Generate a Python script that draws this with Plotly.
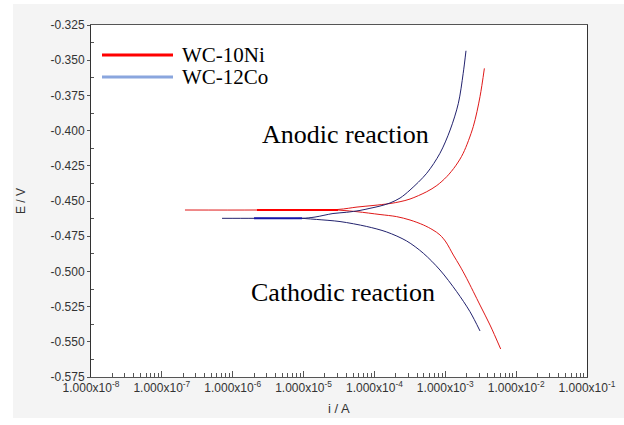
import plotly.graph_objects as go

# ---- data ----
ni_anodic_i = [2.12e-7, 2.20e-6, 3.06e-5, 5.68e-5, 9.55e-5, 1.66e-4, 2.30e-4, 3.18e-4,
               5.47e-4, 7.60e-4, 1.05e-3, 1.40e-3, 1.79e-3, 2.48e-3, 3.09e-3, 3.56e-3]
ni_anodic_E = [-0.4564, -0.4564, -0.4560, -0.4543, -0.4532, -0.4518, -0.4505, -0.4486,
               -0.4434, -0.4390, -0.4327, -0.4250, -0.4161, -0.3972, -0.3759, -0.3558]
ni_cathodic_i = [3.06e-5, 5.68e-5, 1.20e-4, 2.06e-4, 3.18e-4, 4.90e-4, 6.71e-4, 8.41e-4,
                 1.02e-3, 1.30e-3, 1.61e-3, 2.00e-3, 3.09e-3, 4.28e-3, 6.05e-3]
ni_cathodic_E = [-0.4564, -0.4576, -0.4596, -0.4611, -0.4635, -0.4670, -0.4706, -0.4741,
                 -0.4791, -0.4884, -0.4962, -0.5049, -0.5239, -0.5381, -0.5551]
ni_thick_i = [2.20e-6, 3.06e-5]
ni_thick_E = [-0.4564, -0.4564]

co_anodic_i = [7.07e-7, 2.00e-6, 9.51e-6, 1.45e-5, 2.60e-5, 4.06e-5, 6.25e-5, 8.65e-5,
               1.20e-4, 1.66e-4, 2.30e-4, 3.18e-4, 5.47e-4, 8.41e-4, 1.17e-3, 1.53e-3,
               1.79e-3, 1.96e-3]
co_anodic_E = [-0.4623, -0.4623, -0.4623, -0.4614, -0.4589, -0.4580, -0.4567, -0.4552,
               -0.4536, -0.4514, -0.4479, -0.4422, -0.4303, -0.4161, -0.3996, -0.3806,
               -0.3593, -0.3433]
co_cathodic_i = [9.51e-6, 1.53e-5, 3.27e-5, 7.78e-5, 1.49e-4, 2.85e-4, 4.90e-4, 8.41e-4,
                 1.45e-3, 2.23e-3, 3.09e-3]
co_cathodic_E = [-0.4623, -0.4631, -0.4646, -0.4681, -0.4720, -0.4784, -0.4871, -0.4990,
                 -0.5144, -0.5286, -0.5423]
co_thick_i = [2.00e-6, 9.51e-6]
co_thick_E = [-0.4623, -0.4623]

x_tick_vals = [1e-8, 1e-7, 1e-6, 1e-5, 1e-4, 1e-3, 1e-2, 1e-1]
x_tick_text = ["1.000x10<sup>-8</sup>", "1.000x10<sup>-7</sup>", "1.000x10<sup>-6</sup>",
               "1.000x10<sup>-5</sup>", "1.000x10<sup>-4</sup>", "1.000x10<sup>-3</sup>",
               "1.000x10<sup>-2</sup>", "1.000x10<sup>-1</sup>"]
y_tick_vals = [-0.575, -0.550, -0.525, -0.500, -0.475, -0.450, -0.425, -0.400, -0.375,
               -0.350, -0.325]
y_tick_text = ["-0.575", "-0.550", "-0.525", "-0.500", "-0.475", "-0.450", "-0.425",
               "-0.400", "-0.375", "-0.350", "-0.325"]

series_names = ["WC-10Ni", "WC-12Co"]
legend_colors = ["#ff0000", "#8aa6de"]

NI_COLOR = "#e01818"
CO_COLOR = "#22226e"
TICK_FONT = "Liberation Sans"

x_minor = [k * 10 ** e for e in range(-8, -1) for k in range(2, 10)]
y_minor = [v + 0.0125 for v in y_tick_vals[:-1]]

fig = go.Figure()


def add_line(xs, ys, color, width, smooth=True):
    fig.add_trace(go.Scatter(x=xs, y=ys, mode="lines", showlegend=False,
                             line=dict(color=color, width=width,
                                       shape="spline" if smooth else "linear",
                                       smoothing=0.9),
                             hoverinfo="skip"))


add_line(ni_anodic_i, ni_anodic_E, NI_COLOR, 1.0)
add_line(ni_cathodic_i, ni_cathodic_E, NI_COLOR, 1.0)
add_line(ni_thick_i, ni_thick_E, "#ff0000", 2.0, smooth=False)
add_line(co_anodic_i, co_anodic_E, CO_COLOR, 1.0)
add_line(co_cathodic_i, co_cathodic_E, CO_COLOR, 1.0)
add_line(co_thick_i, co_thick_E, "#1414a8", 2.0, smooth=False)

# plot area in pixels: left 91, right 587, top 25, bottom 377
L, R, T, B = 91, 587, 25, 377
W, H = R - L, B - T


def px(x):
    return (x - L) / W


def py(y):
    return (B - y) / H


white_strip = dict(fillcolor="#ffffff", line=dict(width=0), layer="below",
                   type="rect", xref="paper", yref="paper")
shapes = [
    dict(white_strip, x0=px(-5), x1=px(13), y0=py(430), y1=py(-5)),
    dict(white_strip, x0=px(-5), x1=px(630), y0=py(4), y1=py(-5)),
    dict(white_strip, x0=px(-5), x1=px(630), y0=py(430), y1=py(418)),
]
annotations = []
leg_y = [55, 77]
for name, col, yy in zip(series_names, legend_colors, leg_y):
    shapes.append(dict(type="line", xref="paper", yref="paper", x0=px(102), x1=px(173),
                       y0=py(yy), y1=py(yy), line=dict(color=col, width=3)))
    annotations.append(dict(xref="paper", yref="paper", x=px(180), y=py(yy), text=name,
                            showarrow=False, xanchor="left", yanchor="middle",
                            font=dict(family="Liberation Serif", size=21, color="#000000")))

annotations += [
    dict(xref="paper", yref="paper", x=px(345), y=py(134), text="Anodic reaction",
         showarrow=False, xanchor="center", yanchor="middle",
         font=dict(family="Liberation Serif", size=26, color="#000000")),
    dict(xref="paper", yref="paper", x=px(342.5), y=py(292), text="Cathodic reaction",
         showarrow=False, xanchor="center", yanchor="middle",
         font=dict(family="Liberation Serif", size=26, color="#000000")),
    dict(xref="paper", yref="paper", x=px(21), y=py(201), text="E / V", textangle=-90,
         showarrow=False, xanchor="center", yanchor="middle",
         font=dict(family=TICK_FONT, size=12, color="#333333")),
    dict(xref="paper", yref="paper", x=px(339), y=py(408), text="i / A",
         showarrow=False, xanchor="center", yanchor="middle",
         font=dict(family=TICK_FONT, size=13, color="#333333")),
]

fig.update_layout(
    width=624, height=425,
    margin=dict(l=L, r=624 - R, t=T, b=425 - B, pad=0, autoexpand=False),
    paper_bgcolor="#f4f4f4", plot_bgcolor="#ffffff",
    showlegend=False,
    shapes=shapes, annotations=annotations,
    font=dict(family=TICK_FONT, size=12, color="#333333"),
)
fig.update_xaxes(
    type="log", range=[-8, -1], showgrid=False, zeroline=False, automargin=False,
    showline=True, linecolor="#555555", linewidth=1, mirror=True,
    tickmode="array", tickvals=x_tick_vals, ticktext=x_tick_text,
    ticks="inside", ticklen=6, tickcolor="#555555",
    minor=dict(tickmode="array", tickvals=x_minor, ticks="inside", ticklen=4,
               tickcolor="#555555", showgrid=False),
    tickfont=dict(family=TICK_FONT, size=12, color="#333333"),
)
fig.update_yaxes(
    range=[-0.575, -0.325], showgrid=False, zeroline=False, automargin=False,
    showline=True, linecolor="#333333", linewidth=1, mirror=True,
    tickmode="array", tickvals=y_tick_vals, ticktext=y_tick_text,
    ticks="outside", ticklen=3, tickcolor="#555555",
    minor=dict(tickmode="array", tickvals=y_minor, ticks="inside", ticklen=3,
               tickcolor="#555555", showgrid=False),
    tickfont=dict(family=TICK_FONT, size=12, color="#333333"),
)

fig.write_html("out.html")
